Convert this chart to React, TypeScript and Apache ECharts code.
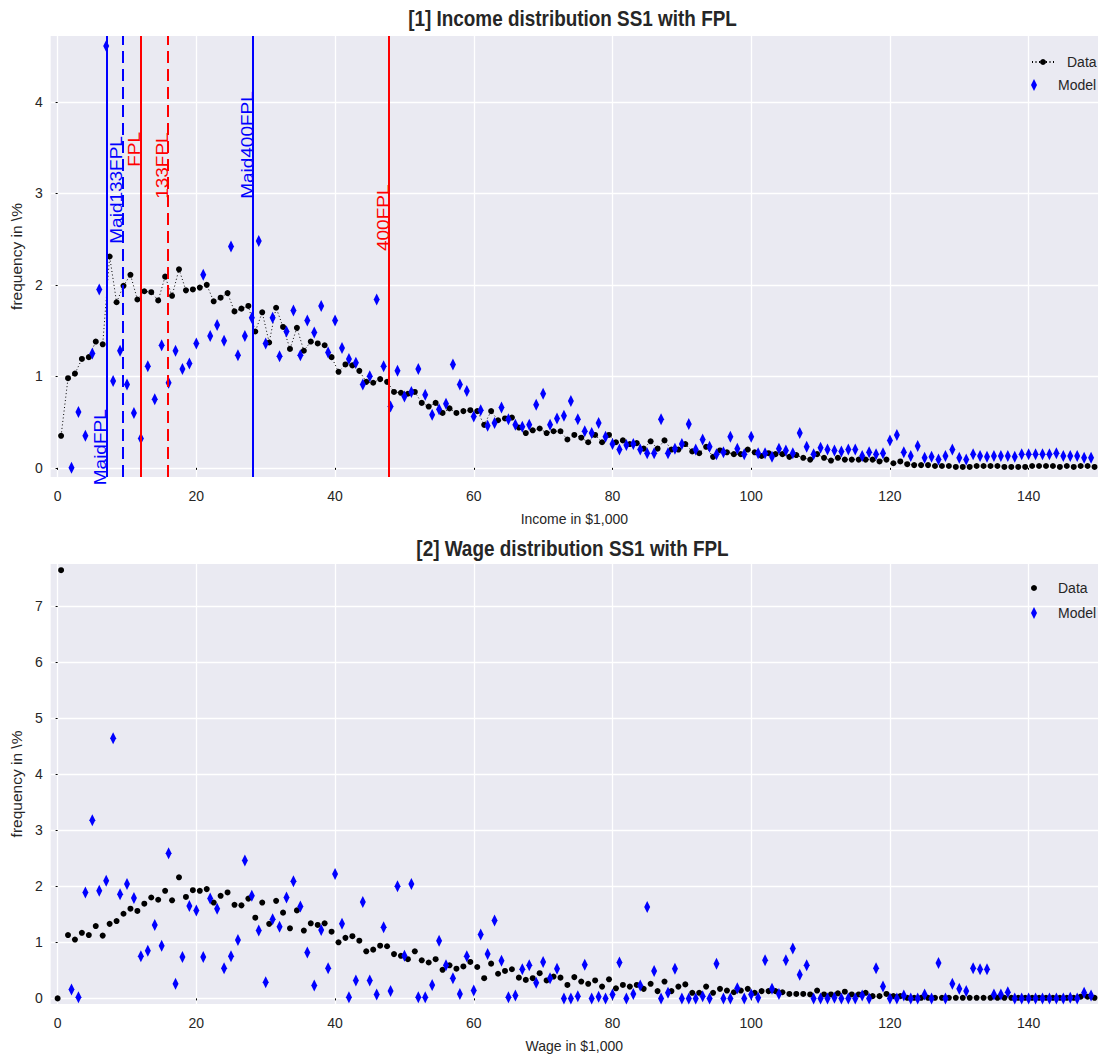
import React, { useEffect, useRef } from "react";
import * as echarts from "echarts";

// ---------- data ----------
const xTicks = [0, 20, 40, 60, 80, 100, 120, 140];
const incomeYTicks = [0, 1, 2, 3, 4];
const wageYTicks = [0, 1, 2, 3, 4, 5, 6, 7];

// bins: data points sit at bin centres (0.5, 1.5, ...), model points at 2, 3, ...
const dataFirstBin = 0.5;
const modelFirstBin = 2;
const binWidth = 1;

const incomeData = [
  0.35, 0.98, 1.03, 1.19, 1.21, 1.38, 1.35, 2.31, 1.81, 1.99,
  2.11, 1.84, 1.93, 1.92, 1.83, 2.09, 1.88, 2.17, 1.94, 1.95,
  1.97, 2.0, 1.82, 1.86, 1.91, 1.71, 1.74, 1.77, 1.49, 1.7,
  1.37, 1.75, 1.54, 1.3, 1.53, 1.28, 1.38, 1.36, 1.34, 1.21,
  1.05, 1.13, 1.12, 1.06, 0.94, 0.93, 0.97, 0.94, 0.83, 0.82,
  0.81, 0.83, 0.71, 0.67, 0.71, 0.6, 0.65, 0.6, 0.62, 0.63,
  0.62, 0.47, 0.62, 0.52, 0.54, 0.55, 0.44, 0.38, 0.41, 0.43,
  0.38, 0.4, 0.4, 0.31, 0.36, 0.33, 0.28, 0.36, 0.28, 0.36,
  0.28, 0.3, 0.26, 0.27, 0.21, 0.29, 0.21, 0.3, 0.2, 0.2,
  0.26, 0.18, 0.16, 0.23, 0.12, 0.19, 0.17, 0.15, 0.15, 0.2,
  0.17, 0.13, 0.16, 0.15, 0.15, 0.12, 0.14, 0.11, 0.09, 0.15,
  0.11, 0.08, 0.11, 0.09, 0.09, 0.09, 0.09, 0.09, 0.07, 0.09,
  0.05, 0.07, 0.04, 0.03, 0.03, 0.03, 0.02, 0.02, 0.02, 0.01,
  0.01, 0.01, 0.02, 0.02, 0.02, 0.02, 0.01, 0.01, 0.01, 0.01,
  0.02, 0.02, 0.02, 0.02, 0.01, 0.02, 0.01, 0.02, 0.02, 0.01,
];

const incomeModel = [
  0.0, 0.61, 0.35, 1.25, 1.95, 4.61, 0.95, 1.28, 0.91, 0.6,
  0.32, 1.11, 0.75, 1.34, 0.93, 1.28, 1.08, 1.14, 1.36, 2.11,
  1.44, 1.56, 1.39, 2.42, 1.23, 1.44, 1.64, 2.48, 1.36, 1.64,
  1.22, 1.49, 1.72, 1.23, 1.61, 1.48, 1.77, 1.26, 1.61, 1.31,
  1.19, 1.15, 0.91, 1.0, 1.84, 1.11, 0.67, 1.06, 0.78, 0.83,
  1.08, 0.8, 0.58, 0.64, 0.7, 1.13, 0.91, 0.84, 0.56, 0.63,
  0.46, 0.49, 0.66, 0.53, 0.47, 0.45, 0.47, 0.69, 0.81, 0.47,
  0.54, 0.57, 0.73, 0.53, 0.4, 0.38, 0.49, 0.34, 0.26, 0.2,
  0.25, 0.26, 0.2, 0.16, 0.16, 0.53, 0.16, 0.21, 0.26, 0.48,
  0.2, 0.31, 0.23, 0.15, 0.17, 0.34, 0.21, 0.15, 0.34, 0.16,
  0.16, 0.12, 0.21, 0.19, 0.16, 0.38, 0.23, 0.15, 0.22, 0.2,
  0.19, 0.18, 0.2, 0.2, 0.13, 0.17, 0.15, 0.16, 0.3, 0.36,
  0.17, 0.13, 0.24, 0.11, 0.12, 0.09, 0.13, 0.2, 0.11, 0.09,
  0.15, 0.13, 0.12, 0.13, 0.13, 0.13, 0.12, 0.15, 0.15, 0.15,
  0.15, 0.15, 0.16, 0.13, 0.13, 0.13, 0.11, 0.11,
];

const wageZeroPoint = [0, 0.0];
const wageData = [
  7.64, 1.13, 1.05, 1.17, 1.13, 1.29, 1.12, 1.33, 1.38, 1.51,
  1.6, 1.56, 1.69, 1.8, 1.76, 1.92, 1.75, 2.16, 1.81, 1.93,
  1.92, 1.95, 1.71, 1.83, 1.89, 1.67, 1.66, 1.78, 1.44, 1.71,
  1.33, 1.74, 1.53, 1.25, 1.57, 1.21, 1.34, 1.31, 1.34, 1.19,
  1.0, 1.08, 1.11, 1.03, 0.84, 0.87, 0.94, 0.93, 0.79, 0.76,
  0.7, 0.84, 0.68, 0.64, 0.7, 0.51, 0.59, 0.53, 0.57, 0.65,
  0.56, 0.36, 0.62, 0.44, 0.49, 0.52, 0.37, 0.33, 0.36, 0.45,
  0.32, 0.39, 0.37, 0.24, 0.38, 0.3, 0.26, 0.32, 0.21, 0.34,
  0.18, 0.24, 0.21, 0.24, 0.17, 0.26, 0.13, 0.3, 0.13, 0.21,
  0.25, 0.1, 0.1, 0.21, 0.1, 0.17, 0.14, 0.11, 0.14, 0.17,
  0.1, 0.13, 0.13, 0.13, 0.11, 0.08, 0.08, 0.08, 0.07, 0.14,
  0.07, 0.07, 0.09, 0.12, 0.07, 0.07, 0.1, 0.04, 0.04, 0.08,
  0.04, 0.04, 0.01, 0.01, 0.01, 0.01, 0.01, 0.01, 0.01, 0.01,
  0.01, 0.01, 0.01, 0.01, 0.01, 0.01, 0.01, 0.01, 0.01, 0.01,
  0.01, 0.01, 0.01, 0.01, 0.01, 0.01, 0.01, 0.03, 0.03, 0.01,
];

const wageModel = [
  0.16, 0.02, 1.89, 3.18, 1.92, 2.1, 4.64, 1.86, 2.04, 1.79,
  0.75, 0.85, 1.31, 0.94, 2.59, 0.26, 0.74, 1.65, 1.57, 0.74,
  1.78, 1.6, 0.54, 0.75, 1.04, 2.46, 1.83, 1.21, 0.29, 1.41,
  1.28, 1.8, 2.09, 1.64, 0.82, 0.23, 1.22, 0.54, 2.22, 1.33,
  0.02, 0.32, 1.72, 0.32, 0.07, 1.27, 0.13, 2.0, 0.76, 2.04,
  0.02, 0.02, 0.24, 1.03, 0.59, 0.36, 0.08, 0.75, 0.14, 1.14,
  0.79, 1.39, 0.67, 0.02, 0.05, 0.52, 0.59, 0.28, 0.65, 0.36,
  0.53, 0.0, 0.0, 0.04, 0.6, 0.0, 0.03, 0.0, 0.07, 0.64,
  0.0, 0.08, 0.23, 1.63, 0.49, 0.0, 0.1, 0.53, 0.0, 0.0,
  0.0, 0.04, 0.0, 0.62, 0.0, 0.0, 0.18, 0.0, 0.07, 0.01,
  0.68, 0.17, 0.08, 0.68, 0.89, 0.42, 0.59, 0.0, 0.0, 0.0,
  0.01, 0.0, 0.0, 0.0, 0.05, 0.0, 0.54, 0.21, 0.0, 0.0,
  0.05, 0.0, 0.0, 0.07, 0.0, 0.63, 0.0, 0.26, 0.17, 0.13,
  0.54, 0.52, 0.52, 0.07, 0.07, 0.11, 0.0, 0.0, 0.0, 0.0,
  0.0, 0.0, 0.0, 0.0, 0.01, 0.0, 0.1, 0.05,
];

const fplNames = ["MaidFPL", "Maid133FPL", "FPL", "133FPL", "Maid400FPL", "400FPL"];
const fplValues = [7.05, 9.35, 11.93, 15.9, 28.2, 47.8];
const fplColors = ["#0000ff", "#0000ff", "#ff0000", "#ff0000", "#0000ff", "#ff0000"];
const fplDashed = [false, true, false, true, false, false];
const fplLabelStart = [-0.19, 2.45, 3.29, 2.94, 2.94, 2.37];

// ---------- layout ----------
const W = 1099;
const H = 1064;
const GRID_LEFT = 47;
const GRID_W = 1051;
const GRID1_TOP = 36;
const GRID1_H = 441;
const GRID2_TOP = 564;
const GRID2_H = 440;
const FONT = "'Liberation Sans Narrow', 'Liberation Sans', Arial, sans-serif";
const TEXT = "#262626";
const DIAMOND = "path://M3,0L6,6L3,12L0,6Z";

function pts(values: number[], start: number) {
  return values.map((v, i) => [start + i * binWidth, v]);
}

function xAxis(gridIndex: number, name: string) {
  return {
    type: "value",
    gridIndex,
    min: -1,
    max: 150,
    name,
    nameLocation: "middle",
    nameGap: 35,
    nameTextStyle: { color: TEXT, fontFamily: FONT, fontSize: 14 },
    axisLine: { show: false },
    axisTick: { show: true, customValues: xTicks, length: 2, lineStyle: { color: "#000", width: 1 } },
    axisLabel: { customValues: xTicks, margin: 12, color: TEXT, fontFamily: FONT, fontSize: 14 },
    splitLine: { show: true, lineStyle: { color: "#ffffff", width: 1.3 } },
  };
}

function yAxis(gridIndex: number, max: number, ticks: number[]) {
  return {
    type: "value",
    gridIndex,
    min: -0.1,
    max,
    name: "frequency in \\%",
    nameLocation: "middle",
    nameRotate: 90,
    nameGap: 19,
    nameTextStyle: { color: TEXT, fontFamily: "'Liberation Sans', Arial, sans-serif", fontSize: 15.5 },
    axisLine: { show: false },
    axisTick: { show: true, customValues: ticks, length: 2, lineStyle: { color: "#000", width: 1 } },
    axisLabel: { customValues: ticks, margin: 8, color: TEXT, fontFamily: FONT, fontSize: 14 },
    splitLine: { show: true, lineStyle: { color: "#ffffff", width: 1.3 } },
  };
}

const legendText = { color: TEXT, fontFamily: FONT, fontSize: 14, padding: [0, 0, 0, 8] };

function buildOption() {
  return {
    animation: false,
    backgroundColor: "#ffffff",
    grid: [
      { left: GRID_LEFT, top: GRID1_TOP, width: GRID_W, height: GRID1_H, backgroundColor: "#EAEAF2", show: true, borderWidth: 0 },
      { left: GRID_LEFT, top: GRID2_TOP, width: GRID_W, height: GRID2_H, backgroundColor: "#EAEAF2", show: true, borderWidth: 0 },
    ],
    xAxis: [xAxis(0, "Income in $1,000"), xAxis(1, "Wage in $1,000")],
    yAxis: [yAxis(0, 4.72, incomeYTicks), yAxis(1, 7.75, wageYTicks)],
    legend: [
      { data: ["Data"], left: 1026, top: 50, itemWidth: 22, itemHeight: 7.5, textStyle: legendText, selectedMode: false },
      { data: [{ name: "Model", icon: DIAMOND }], left: 1026, top: 73, itemWidth: 22, itemHeight: 12, textStyle: legendText, selectedMode: false },
      { data: [{ name: "Data2", icon: "circle" }], formatter: () => "Data", left: 1026, top: 576, itemWidth: 22, itemHeight: 6, textStyle: legendText, selectedMode: false },
      { data: [{ name: "Model2", icon: DIAMOND }], formatter: () => "Model", left: 1026, top: 601, itemWidth: 22, itemHeight: 12, textStyle: legendText, selectedMode: false },
    ],
    series: [
      {
        name: "Data",
        type: "line",
        xAxisIndex: 0,
        yAxisIndex: 0,
        data: pts(incomeData, dataFirstBin),
        symbol: "circle",
        symbolSize: 6,
        showSymbol: true,
        itemStyle: { color: "#000000", opacity: 1 },
        lineStyle: { color: "#000000", width: 1, type: [1, 2.5] },
        z: 2,
      },
      {
        name: "Model",
        type: "scatter",
        xAxisIndex: 0,
        yAxisIndex: 0,
        data: pts(incomeModel, modelFirstBin),
        symbol: "diamond",
        symbolSize: [6, 12],
        itemStyle: { color: "#0000ff", opacity: 1 },
        z: 3,
      },
      {
        name: "FPL lines",
        type: "line",
        xAxisIndex: 0,
        yAxisIndex: 0,
        data: [],
        z: 5,
        markLine: {
          silent: true,
          symbol: ["none", "none"],
          label: { show: false },
          data: fplValues.map((v, i) => ({
            xAxis: v,
            lineStyle: { color: fplColors[i], width: 2, type: fplDashed[i] ? [12, 6] : "solid" },
          })),
        },
      },
      {
        name: "Data2",
        type: "scatter",
        xAxisIndex: 1,
        yAxisIndex: 1,
        data: [wageZeroPoint, ...pts(wageData, dataFirstBin)],
        symbol: "circle",
        symbolSize: 6,
        itemStyle: { color: "#000000", opacity: 1 },
        z: 2,
      },
      {
        name: "Model2",
        type: "scatter",
        xAxisIndex: 1,
        yAxisIndex: 1,
        data: pts(wageModel, modelFirstBin),
        symbol: "diamond",
        symbolSize: [6, 12],
        itemStyle: { color: "#0000ff", opacity: 1 },
        z: 3,
      },
    ],
  };
}

export default function App() {
  const ref = useRef<HTMLDivElement>(null);
  useEffect(() => {
    if (!ref.current) return;
    const chart = echarts.init(ref.current, undefined, { renderer: "svg" });
    chart.setOption(buildOption() as any);

    const cx = GRID_LEFT + GRID_W / 2;
    const titleStyle = {
      fill: TEXT,
      fontSize: 22,
      fontWeight: "bold",
      fontFamily: "'Liberation Sans', Arial, sans-serif",
      align: "center",
      verticalAlign: "middle",
    };
    const titles = [
      { type: "text", x: cx, y: 18, scaleX: 0.86, z: 100, style: { ...titleStyle, text: "[1] Income distribution SS1 with FPL" } },
      { type: "text", x: cx, y: 548, scaleX: 0.86, z: 100, style: { ...titleStyle, text: "[2] Wage distribution SS1 with FPL" } },
    ];
    const labels = fplNames.map((name, i) => {
      const p = chart.convertToPixel({ xAxisIndex: 0, yAxisIndex: 0 } as any, [fplValues[i], fplLabelStart[i]]) as number[];
      return {
        type: "text",
        x: p[0] + 2.5,
        y: p[1],
        rotation: Math.PI / 2,
        scaleY: 0.88,
        z: 100,
        style: {
          text: name,
          fill: fplColors[i],
          fontSize: 19,
          fontFamily: "'Liberation Sans', Arial, sans-serif",
          align: "left",
          verticalAlign: "bottom",
        },
      };
    });
    chart.setOption({ graphic: [...titles, ...labels] } as any);
    return () => chart.dispose();
  }, []);
  return (
    <div
      ref={ref}
      style={{ position: "absolute", left: 0, top: 0, width: W, height: H }}
    />
  );
}
